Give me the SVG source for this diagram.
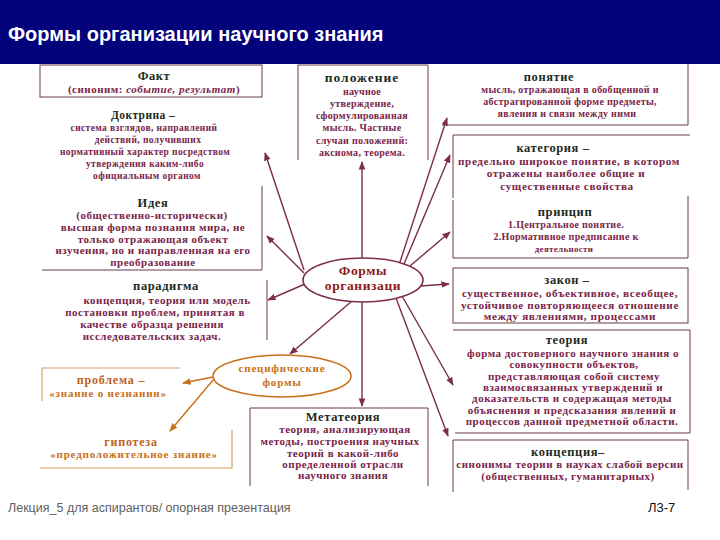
<svg xmlns="http://www.w3.org/2000/svg" width="720" height="540" viewBox="0 0 720 540">
<defs>
<style>
.t{font-family:"Liberation Serif","DejaVu Serif",serif;font-size:12.5px;font-weight:bold;letter-spacing:0.6px;fill:#1c2a1c;text-anchor:middle}
.b{font-family:"Liberation Serif","DejaVu Serif",serif;font-size:11px;font-weight:bold;letter-spacing:0.5px;fill:#7a2448;text-anchor:middle}
.s{font-size:10px;letter-spacing:0.3px}
.xs{font-size:9.5px;letter-spacing:0.4px}
.l{font-size:11.2px;letter-spacing:0.6px}
.o{font-family:"Liberation Serif","DejaVu Serif",serif;font-size:11px;font-weight:bold;letter-spacing:0.8px;fill:#c8701a;text-anchor:middle}
.ot{font-family:"Liberation Serif","DejaVu Serif",serif;font-size:12px;font-weight:bold;letter-spacing:0.8px;fill:#c0601a;text-anchor:middle}
.bd{fill:none;stroke:#6a3a4e;stroke-width:1}
.obd{fill:none;stroke:#d8a060;stroke-width:1.2}
.c{stroke:#7b2d4a;stroke-width:1.4;fill:none;marker-end:url(#a)}
.oc{stroke:#c8701a;stroke-width:1.4;fill:none;marker-end:url(#ao)}
</style>
<marker id="a" viewBox="0 0 10 10" refX="9" refY="5" markerWidth="6" markerHeight="6" orient="auto"><path d="M0,1 L10,5 L0,9 z" fill="#7b2d4a"/></marker>
<marker id="ao" viewBox="0 0 10 10" refX="9" refY="5" markerWidth="6" markerHeight="6" orient="auto"><path d="M0,1 L10,5 L0,9 z" fill="#c8701a"/></marker>
</defs>
<rect width="720" height="540" fill="#ffffff"/>
<rect x="0" y="0" width="720" height="64" fill="#02027a"/>
<text x="8" y="41" font-family="'Liberation Sans',Arial,sans-serif" font-size="20" font-weight="bold" fill="#ffffff">Формы организации научного знания</text>

<g id="connectors">
<line class="c" x1="304" y1="270" x2="265" y2="153"/>
<line class="c" x1="304" y1="273" x2="267" y2="236"/>
<line class="c" x1="305" y1="284" x2="268" y2="300"/>
<line class="c" x1="362" y1="258" x2="362" y2="162"/>
<line class="c" x1="400" y1="262" x2="447" y2="118"/>
<line class="c" x1="404" y1="264" x2="450" y2="155"/>
<line class="c" x1="410" y1="266" x2="450" y2="232"/>
<line class="c" x1="420" y1="286" x2="449" y2="284"/>
<line class="c" x1="402" y1="296" x2="453" y2="385"/>
<line class="c" x1="396" y1="298" x2="448" y2="436"/>
<line class="c" x1="362" y1="302" x2="362" y2="406"/>
<line class="c" x1="352" y1="301" x2="290" y2="354"/>
<line class="oc" x1="213" y1="377" x2="183" y2="383"/>
<line class="oc" x1="214" y1="379" x2="170" y2="431"/>
</g>

<g id="fakt">
<rect class="bd" x="40" y="65" width="222" height="32"/>
<text class="t" x="154" y="80">Факт</text>
<text class="b" x="154" y="93">(синоним: <tspan font-style="italic">событие, результат</tspan>)</text>
</g>

<g id="doktrina">
<text class="t xs" x="143" y="119" style="font-size:11.5px">Доктрина –</text>
<text class="b xs" x="144" y="131">система взглядов, направлений</text>
<text class="b xs" x="148" y="143">действий, получивших</text>
<text class="b xs" x="145" y="155">нормативный характер посредством</text>
<text class="b xs" x="145" y="167">утверждения каким-либо</text>
<text class="b xs" x="147" y="179">официальным органом</text>
</g>

<g id="ideya">
<path class="bd" d="M262,186 V270 H42"/>
<text class="t" x="153" y="207">Идея</text>
<text class="b" x="152" y="219">(общественно-исторически)</text>
<text class="b" x="153" y="231">высшая форма познания мира, не</text>
<text class="b" x="153" y="243">только отражающая объект</text>
<text class="b" x="153" y="254">изучения, но и направленная на его</text>
<text class="b" x="153" y="266">преобразование</text>
</g>

<g id="paradigma">
<path class="bd" d="M267,280 V340"/>
<text class="t" x="166" y="290">парадигма</text>
<text class="b" x="167" y="304">концепция, теория или модель</text>
<text class="b" x="155" y="316">постановки проблем, принятая в</text>
<text class="b" x="152" y="328">качестве образца решения</text>
<text class="b" x="152" y="340">исследовательских задач.</text>
</g>

<g id="polozhenie">
<path class="bd" d="M298,160 V65 H428 V160"/>
<text class="t" x="362" y="82" style="font-size:13.5px;letter-spacing:1px">положение</text>
<text class="b s" x="362" y="95">научное</text>
<text class="b s" x="362" y="107">утверждение,</text>
<text class="b s" x="362" y="119">сформулированная</text>
<text class="b s" x="362" y="131">мысль. Частные</text>
<text class="b s" x="362" y="144">случаи положений:</text>
<text class="b s" x="362" y="156">аксиома, теорема.</text>
</g>

<g id="ponyatie">
<path class="bd" d="M688,64 V125 H442"/>
<text class="t" x="549" y="81">понятие</text>
<text class="b s" x="570" y="93">мысль, отражающая в обобщенной и</text>
<text class="b s" x="570" y="105">абстрагированной форме предметы,</text>
<text class="b s" x="567" y="117">явления и связи между ними</text>
</g>

<g id="kategoriya">
<path class="bd" d="M453,198 V135 H690"/>
<text class="t" x="553" y="152">категория –</text>
<text class="b l" x="569" y="165">предельно широкое понятие, в котором</text>
<text class="b l" x="566" y="177">отражены наиболее общие и</text>
<text class="b l" x="567" y="190">существенные свойства</text>
</g>

<g id="princip">
<path class="bd" d="M453,200 V258 H688 V196"/>
<text class="t" x="565" y="216">принцип</text>
<text class="b s" x="566" y="228">1.Центральное понятие.</text>
<text class="b s" x="566" y="240">2.Нормативное предписание к</text>
<text class="b s" x="564" y="252" style="font-size:9px">деятельности</text>
</g>

<g id="zakon">
<rect class="bd" x="453" y="268" width="235" height="55"/>
<text class="t" x="567" y="284">закон –</text>
<text class="b l" x="570" y="297">существенное, объективное, всеобщее,</text>
<text class="b l" x="570" y="309">устойчивое повторяющееся отношение</text>
<text class="b l" x="570" y="320">между явлениями, процессами</text>
</g>

<g id="teoriya">
<path class="bd" d="M453,330 H690 V433 H455"/>
<text class="t" x="567" y="344">теория</text>
<text class="b" x="573" y="357">форма достоверного научного знания о</text>
<text class="b" x="574" y="368">совокупности объектов,</text>
<text class="b" x="574" y="380">представляющая собой систему</text>
<text class="b" x="573" y="391">взаимосвязанных утверждений и</text>
<text class="b" x="572" y="402">доказательств и содержащая методы</text>
<text class="b" x="572" y="414">объяснения и предсказания явлений и</text>
<text class="b" x="572" y="425">процессов данной предметной области.</text>
</g>

<g id="koncepciya">
<path class="bd" d="M453,492 V440 H688 V490"/>
<text class="t" x="568" y="456">концепция–</text>
<text class="b" x="570" y="468">синонимы теории в науках слабой версии</text>
<text class="b" x="568" y="480">(общественных, гуманитарных)</text>
</g>

<g id="metateoriya">
<path class="bd" d="M250,486 V408 H428 V486"/>
<text class="t" x="343" y="421">Метатеория</text>
<text class="b" x="345" y="433">теория, анализирующая</text>
<text class="b" x="340" y="445">методы, построения научных</text>
<text class="b" x="343" y="457">теорий в какой-либо</text>
<text class="b" x="343" y="468">определенной отрасли</text>
<text class="b" x="343" y="479">научного знания</text>
</g>

<g id="formy">
<ellipse cx="363" cy="280" rx="60" ry="22" fill="#ffffff" stroke="#7b2d4a" stroke-width="1.6"/>
<text class="t" x="363" y="275" style="fill:#8b1a1a;font-size:13.5px">Формы</text>
<text class="t" x="363" y="290" style="fill:#8b1a1a;font-size:13.5px">организаци</text>
</g>

<g id="specificheskie">
<ellipse cx="282" cy="376" rx="69" ry="21" fill="#ffffff" stroke="#c8701a" stroke-width="1.6"/>
<text class="o" x="282" y="372">специфические</text>
<text class="o" x="282" y="386">формы</text>
</g>

<g id="problema">
<path class="obd" d="M42,401 V368 H180"/>
<text class="ot" x="111" y="384">проблема –</text>
<text class="o" x="108" y="397">«знание о незнании»</text>
</g>

<g id="gipoteza">
<path class="obd" d="M232,430 V468 H40"/>
<text class="ot" x="131" y="446">гипотеза</text>
<text class="o" x="134" y="458">«предположительное знание»</text>
</g>

<text x="8" y="512" font-family="'Liberation Sans',Arial,sans-serif" font-size="12.5" fill="#606060">Лекция_5  для аспирантов/ опорная презентация</text>
<text x="648" y="512" font-family="'Liberation Sans',Arial,sans-serif" font-size="13" fill="#111111">Л3-7</text>
</svg>
